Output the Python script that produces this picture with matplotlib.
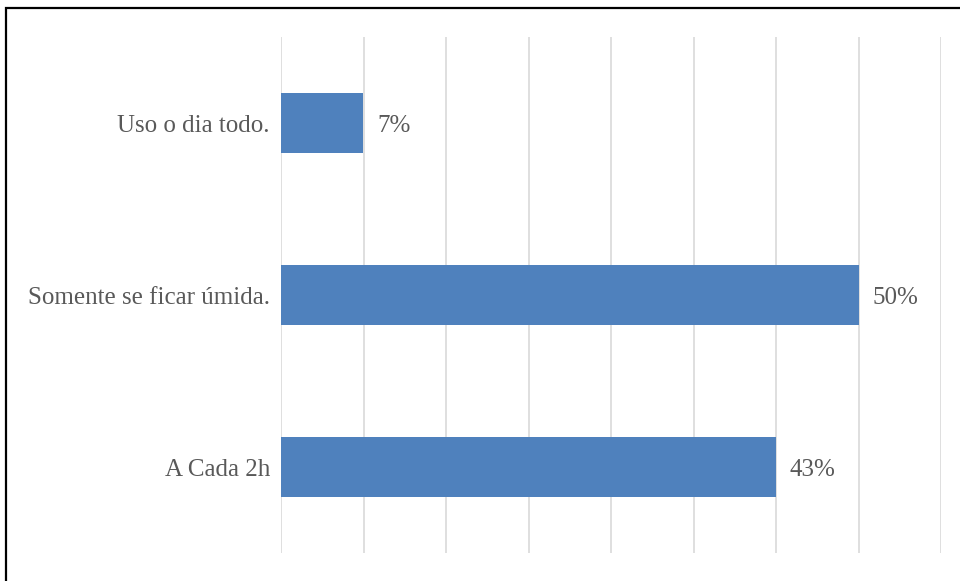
import matplotlib.pyplot as plt
from matplotlib.patches import Rectangle

# Frequência de troca (percentual das respostas)
categories = ['A Cada 2h', 'Somente se ficar úmida.', 'Uso o dia todo.']
percents = [42.86, 50.0, 7.14]

bar_color = '#4F81BD'
text_color = '#595959'
grid_color = '#D9D9D9'

plt.rcParams['font.family'] = ['Liberation Serif', 'DejaVu Serif']

fig = plt.figure(figsize=(9.6, 5.81), dpi=100)
ax = fig.add_axes([281 / 960, 1 - 553 / 581, (941 - 281) / 960, (553 - 37) / 581])

y = range(len(categories))
ax.barh(y, percents, height=0.35, color=bar_color, zorder=2)

for yi, p in zip(y, percents):
    ax.text(p + 1.2, yi, f'{p:.0f}%', va='center_baseline', ha='left',
            fontsize=18, color=text_color)

step = 100 / 14
ax.set_xlim(0, 8 * step)
ax.set_xticks([i * step for i in range(9)])
ax.set_ylim(-0.5, 2.5)
ax.set_yticks(list(y))
ax.set_yticklabels(categories, fontsize=18, color=text_color)
ax.tick_params(axis='y', length=0, pad=8)
ax.tick_params(axis='x', length=0, labelbottom=False)
ax.xaxis.grid(True, color=grid_color, linewidth=1.2, zorder=0)
ax.set_axisbelow(True)
for s in ax.spines.values():
    s.set_visible(False)

# moldura do gráfico
frame = Rectangle((6 / 960, -0.05), 1.1, 1 - 8 / 581 + 0.05,
                  transform=fig.transFigure, fill=False,
                  edgecolor='black', linewidth=1.6, clip_on=False)
fig.patches.append(frame)

fig.savefig('out.png', dpi=100)
